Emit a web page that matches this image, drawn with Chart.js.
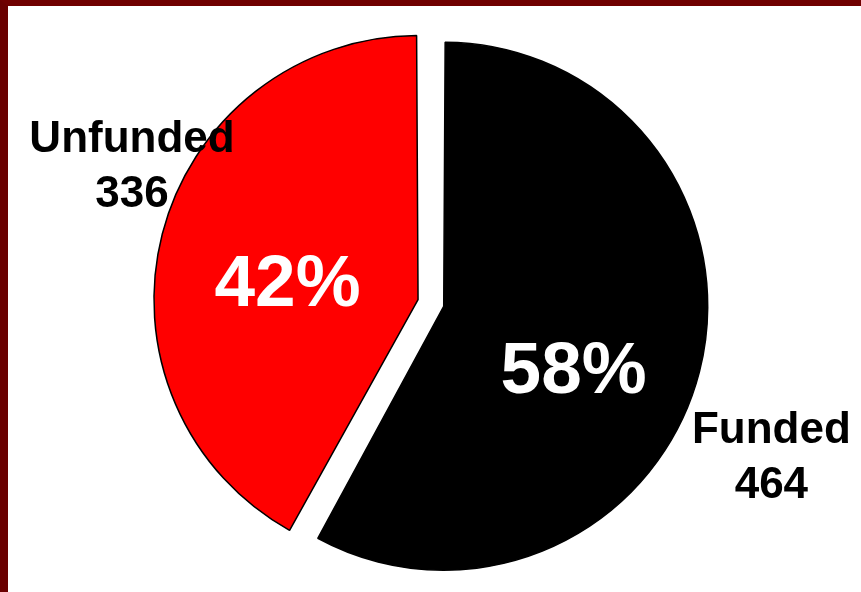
<!DOCTYPE html>
<html>
<head>
<meta charset="utf-8">
<script src="https://cdn.jsdelivr.net/npm/chart.js@4.4.1/dist/chart.umd.min.js"></script>
<style>
  html, body { margin: 0; padding: 0; background: #fff; }
  #frame {
    width: 853px; height: 586px;
    border-top: 6px solid #700000;
    border-left: 8px solid #6a0000;
  }
  canvas { display: block; }
</style>
</head>
<body>
<div id="frame"><canvas id="pie-chart" width="853" height="586"></canvas></div>
<script>
// chart data
var categories = ["Funded", "Unfunded"];
var counts = [464, 336];
var sliceColors = ["#000000", "#ff0000"];

var total = counts.reduce(function(a, b){ return a + b; }, 0);

// where each label sits: radius factor and angle tweak (deg) from slice middle
var pctPlace = [{k: 0.597, d: 10.0}, {k: 0.586, d: -5.0}];
var namePlace = [{k: 1.444, d: 9.6}, {k: 1.31, d: 10.5}];

var labelPlugin = {
    id: 'sliceLabels',
    afterDatasetsDraw: function(chart){
        var ctx = chart.ctx;
        var arcs = chart.getDatasetMeta(0).data;
        ctx.save();
        ctx.textAlign = 'center';
        ctx.textBaseline = 'alphabetic';
        arcs.forEach(function(arc, i){
            var mid = (arc.startAngle + arc.endAngle) / 2;
            var R = arc.outerRadius;
            // percentage inside the slice
            var a = mid + pctPlace[i].d * Math.PI / 180;
            var px = arc.x + Math.cos(a) * R * pctPlace[i].k;
            var py = arc.y + Math.sin(a) * R * pctPlace[i].k;
            ctx.fillStyle = '#ffffff';
            ctx.font = 'bold 73px "Liberation Sans", Arial, sans-serif';
            ctx.fillText(Math.round(counts[i] / total * 100) + '%', px, py + 26);
            // category name and count outside
            var b = mid + namePlace[i].d * Math.PI / 180;
            var nx = arc.x + Math.cos(b) * R * namePlace[i].k;
            var ny = arc.y + Math.sin(b) * R * namePlace[i].k;
            ctx.fillStyle = '#000000';
            ctx.font = 'bold 44px "Liberation Sans", Arial, sans-serif';
            ctx.fillText(categories[i], nx, ny - 27 + 16);
            ctx.fillText(String(counts[i]), nx, ny + 28 + 16);
        });
        ctx.restore();
    }
};

var ctx = document.getElementById("pie-chart").getContext('2d');
var pieChart = new Chart(ctx, {
    type: 'pie',
    data: {
        labels: categories,
        datasets: [{
            data: counts,
            backgroundColor: sliceColors,
            borderColor: "#000000",
            borderWidth: 1.5,
            offset: [36, 70]
        }]
    },
    options: {
        responsive: false,
        animation: false,
        events: [],
        radius: 255,
        layout: { padding: { left: 1, right: 0, top: 10, bottom: 0 } },
        plugins: {
            legend: { display: false },
            tooltip: { enabled: false }
        }
    },
    plugins: [labelPlugin]
});
</script>
</body>
</html>
